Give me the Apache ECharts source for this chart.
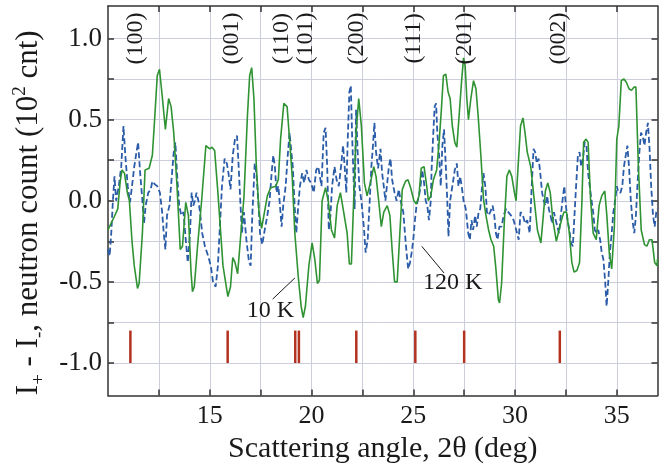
<!DOCTYPE html>
<html><head><meta charset="utf-8">
<script src="https://cdn.jsdelivr.net/npm/echarts@6/dist/echarts.min.js"></script>
<style>html,body{margin:0;padding:0;background:#fff}#c{width:668px;height:467px}</style>
</head><body><div id="c"></div>
<script>
// 10 K (green, solid)
const angles10K = [10.0,10.08,10.3,10.48,10.6,10.69,10.81,10.95,11.05,11.18,11.29,11.45,11.53,11.69,11.82,12.02,12.18,12.31,12.42,12.53,12.66,12.82,12.98,13.1,13.23,13.39,13.55,13.66,13.82,13.95,14.08,14.15,14.24,14.4,14.6,14.81,15.0,15.11,15.24,15.4,15.65,15.89,16.02,16.13,16.24,16.37,16.53,16.68,16.85,16.96,17.06,17.17,17.29,17.42,17.55,17.66,17.83,17.99,18.24,18.37,18.48,18.64,18.8,18.92,19.05,19.18,19.35,19.49,19.59,19.7,19.87,20.03,20.16,20.29,20.39,20.52,20.69,20.82,20.98,21.13,21.26,21.42,21.58,21.75,21.86,21.96,22.07,22.19,22.32,22.45,22.6,22.73,22.89,23.06,23.17,23.3,23.43,23.55,23.72,23.85,23.96,24.08,24.21,24.34,24.46,24.62,24.74,24.87,25.03,25.15,25.28,25.39,25.53,25.66,25.74,25.86,25.99,26.15,26.27,26.38,26.48,26.6,26.71,26.81,26.92,27.04,27.14,27.25,27.37,27.47,27.55,27.63,27.71,27.83,27.96,28.08,28.19,28.32,28.45,28.57,28.7,28.82,28.95,29.06,29.18,29.24,29.34,29.47,29.6,29.72,29.84,29.97,30.05,30.15,30.27,30.39,30.49,30.6,30.77,30.94,31.1,31.27,31.39,31.49,31.61,31.73,31.86,32.03,32.16,32.28,32.4,32.53,32.67,32.79,32.9,33.04,33.17,33.29,33.37,33.49,33.59,33.71,33.84,33.99,34.13,34.26,34.41,34.51,34.63,34.75,34.88,35.0,35.1,35.22,35.35,35.47,35.6,35.72,35.84,35.94,36.06,36.2,36.36,36.48,36.6,36.73,36.86,36.98,37.0];
const counts10K = [-0.18,-0.17,-0.1,-0.05,0.12,0.19,0.17,0.05,0.0,-0.25,-0.4,-0.54,-0.51,-0.2,0.19,0.2,0.28,0.54,0.77,0.81,0.65,0.44,0.63,0.58,0.42,0.09,-0.3,-0.28,-0.01,-0.09,-0.44,-0.56,-0.53,-0.28,0.0,0.34,0.32,0.33,0.31,0.05,-0.4,-0.59,-0.53,-0.35,-0.38,-0.45,-0.2,0.02,0.52,0.77,0.82,0.63,0.21,-0.07,-0.17,-0.09,0.03,0.08,0.09,0.13,0.38,0.6,0.58,0.38,0.15,-0.2,-0.47,-0.65,-0.72,-0.65,-0.4,-0.26,-0.36,-0.51,-0.49,0.0,0.08,0.0,-0.18,-0.23,-0.03,0.05,-0.07,-0.2,-0.39,-0.39,0.0,0.42,0.63,0.46,0.11,0.03,0.11,0.21,0.15,0.0,-0.16,-0.07,-0.03,-0.09,-0.3,-0.5,-0.5,-0.2,0.07,0.12,0.13,0.08,0.0,-0.02,0.03,0.2,0.21,0.09,0.0,0.03,0.13,0.19,0.36,0.56,0.77,0.78,0.67,0.63,0.46,0.36,0.33,0.52,0.73,0.88,0.83,0.63,0.5,0.63,0.74,0.69,0.52,0.28,0.01,-0.09,-0.18,-0.24,-0.28,-0.42,-0.61,-0.63,-0.51,-0.14,0.15,0.19,0.15,0.05,0.0,0.21,0.46,0.51,0.42,0.3,0.21,0.01,-0.18,-0.26,-0.09,0.06,0.11,0.05,-0.12,-0.25,-0.18,-0.12,-0.07,-0.07,-0.2,-0.38,-0.44,-0.43,-0.38,0.01,0.36,0.38,0.36,0.01,-0.2,-0.24,-0.03,0.03,0.06,-0.09,-0.32,-0.42,-0.16,0.38,0.46,0.74,0.75,0.73,0.69,0.68,0.7,0.7,0.21,-0.18,-0.27,-0.28,-0.24,-0.24,-0.38,-0.4,-0.36];

// 120 K (blue, dashed)
const angles120K = [10.0,10.08,10.16,10.24,10.32,10.4,10.53,10.65,10.76,10.85,10.97,11.08,11.18,11.29,11.4,11.48,11.58,11.69,11.77,11.85,11.98,12.1,12.18,12.31,12.42,12.55,12.66,12.74,12.82,12.9,13.02,13.11,13.23,13.31,13.39,13.5,13.6,13.71,13.82,13.92,14.03,14.11,14.19,14.27,14.35,14.44,14.52,14.63,14.76,14.92,15.05,15.16,15.29,15.4,15.48,15.6,15.73,15.84,15.92,16.02,16.13,16.24,16.34,16.42,16.5,16.58,16.68,16.8,16.93,17.01,17.09,17.21,17.29,17.39,17.47,17.58,17.7,17.83,17.94,18.04,18.12,18.2,18.28,18.37,18.45,18.53,18.61,18.73,18.82,18.92,19.0,19.08,19.17,19.25,19.35,19.43,19.54,19.64,19.75,19.87,19.98,20.11,20.23,20.33,20.41,20.49,20.6,20.69,20.77,20.85,20.93,21.01,21.13,21.23,21.34,21.45,21.55,21.63,21.71,21.78,21.86,21.93,21.99,22.08,22.12,22.19,22.26,22.35,22.45,22.57,22.66,22.76,22.86,22.94,23.02,23.09,23.17,23.27,23.39,23.47,23.55,23.63,23.72,23.8,23.88,23.96,24.08,24.18,24.29,24.38,24.51,24.59,24.67,24.75,24.84,24.92,25.0,25.08,25.16,25.28,25.36,25.44,25.53,25.61,25.69,25.77,25.86,25.9,25.97,26.05,26.12,26.18,26.27,26.35,26.43,26.51,26.6,26.68,26.73,26.81,26.92,27.04,27.14,27.22,27.3,27.38,27.47,27.58,27.7,27.78,27.86,27.94,28.04,28.12,28.21,28.29,28.37,28.45,28.54,28.62,28.7,28.78,28.9,28.98,29.06,29.14,29.23,29.34,29.44,29.56,29.67,29.8,29.93,30.02,30.1,30.18,30.27,30.39,30.49,30.6,30.72,30.82,30.91,30.99,31.07,31.16,31.24,31.33,31.41,31.49,31.58,31.66,31.74,31.83,31.91,32.0,32.08,32.16,32.25,32.33,32.42,32.5,32.58,32.67,32.75,32.84,32.92,33.0,33.09,33.17,33.25,33.34,33.42,33.51,33.59,33.67,33.76,33.84,33.92,34.01,34.09,34.18,34.26,34.34,34.43,34.5,34.58,34.66,34.75,34.83,34.92,35.0,35.08,35.18,35.27,35.35,35.44,35.52,35.6,35.69,35.77,35.86,35.94,36.02,36.11,36.19,36.27,36.36,36.44,36.53,36.61,36.69,36.78,36.86,36.94,37.0];
const counts120K = [-0.3,-0.34,-0.2,0.0,0.15,0.0,0.09,0.21,0.46,0.28,0.09,-0.01,0.09,0.21,0.3,0.36,0.17,0.0,-0.14,-0.03,0.05,0.07,0.12,0.1,0.09,0.05,-0.07,-0.2,-0.3,-0.09,-0.03,-0.03,0.3,0.36,0.17,-0.03,-0.09,-0.07,-0.24,-0.38,-0.2,0.05,-0.03,0.0,0.05,0.0,-0.07,-0.2,-0.28,-0.34,-0.4,-0.5,-0.53,-0.4,-0.2,0.09,0.26,0.23,0.17,0.07,0.28,0.38,0.4,0.21,0.0,-0.2,-0.07,-0.24,-0.38,-0.4,-0.09,0.23,0.17,-0.01,-0.2,-0.27,-0.18,-0.09,0.0,0.17,0.28,0.21,0.05,0.09,-0.03,-0.16,-0.03,0.09,0.26,0.42,0.43,0.21,-0.03,-0.2,-0.03,0.09,0.17,0.11,0.19,0.13,0.11,0.05,0.19,0.21,0.15,0.09,0.42,0.45,0.21,-0.18,-0.09,0.09,0.21,0.13,0.09,0.21,0.34,0.21,0.05,0.38,0.67,0.71,0.42,0.09,-0.05,0.56,0.32,0.09,0.0,-0.16,-0.32,-0.24,0.0,0.21,0.34,0.48,0.3,0.2,0.32,0.17,0.09,0.0,0.11,0.21,0.26,0.13,0.05,0.0,0.07,0.0,-0.07,-0.2,-0.32,-0.42,-0.38,-0.32,-0.24,-0.12,-0.03,0.03,0.09,0.19,0.11,0.0,-0.03,-0.12,0.0,0.19,0.38,0.58,0.6,0.42,0.28,0.09,0.34,0.44,0.21,-0.03,-0.22,0.0,0.09,0.19,0.23,0.09,0.15,0.09,0.0,-0.05,-0.2,-0.24,-0.12,-0.18,-0.09,-0.16,-0.07,-0.05,0.07,0.17,0.09,-0.07,-0.09,-0.07,-0.03,-0.09,-0.2,-0.24,-0.16,-0.16,-0.09,-0.05,-0.07,-0.09,-0.12,-0.12,-0.2,-0.24,-0.07,-0.09,-0.14,-0.12,-0.2,0.09,0.32,0.3,0.23,0.26,0.17,0.05,0.0,-0.03,0.03,-0.05,-0.09,-0.14,-0.07,-0.12,-0.16,-0.2,-0.09,0.0,0.09,-0.03,-0.12,-0.18,-0.26,-0.28,-0.09,0.09,0.28,0.3,0.21,0.26,0.36,0.34,0.17,0.09,0.0,-0.07,-0.18,-0.2,-0.18,-0.24,-0.32,-0.36,-0.5,-0.65,-0.5,-0.32,-0.2,-0.07,0.0,0.09,0.05,0.05,0.09,0.21,0.28,0.34,0.21,0.0,-0.12,-0.2,-0.09,0.11,0.3,0.42,0.4,0.34,0.42,0.48,0.32,0.09,-0.09,-0.16,-0.07,-0.05];

// reflections
const reflectionAngles = [11.1, 15.88, 19.2, 19.38, 22.2, 25.1, 27.5, 32.2];
const millerLabels = ['(100)','(001)','(110)','(101)','(200)','(111)','(201)','(002)'];
const millerLabelAngles = [11.37, 16.06, 18.55, 19.72, 22.24, 25.03, 27.55, 32.16];

// axis ticks
const xTickLabels = [15, 20, 25, 30, 35];
const xTickMarks = [12.5, 15, 17.5, 20, 22.5, 25, 27.5, 30, 32.5, 35];
const yTickLabels = [-1.0, -0.5, 0.0, 0.5, 1.0];
const yTickMarks = [-1.0, -0.75, -0.5, -0.25, 0.0, 0.25, 0.5, 0.75, 1.0];

// annotations
const noteTexts = ['10 K', '120 K'];
const noteAngles = [17.98, 26.93];
const noteCounts = [-0.68, -0.508];
const arrowFrom = [[18.09, -0.606], [26.51, -0.445]];
const arrowTo = [[19.18, -0.476], [25.42, -0.281]];

const SERIF = "'Liberation Serif','DejaVu Serif',serif";
const AX = '#333';
const GRID = '#cdcedb';
const INK = '#1a1a1a';

const chart = echarts.init(document.getElementById('c'), null, {renderer: 'canvas'});
const zip = (a, b) => a.map((v, i) => [v, b[i]]);

const xBase = {
  type: 'value', min: 10, max: 37,
  axisLine: {show: true, onZero: false, lineStyle: {color: AX, width: 1.5}},
  axisTick: {show: true, inside: true, length: 6, customValues: xTickMarks, lineStyle: {color: AX, width: 1.5}},
};
const yBase = {
  type: 'value', min: -1.2, max: 1.2,
  axisLine: {show: true, onZero: false, lineStyle: {color: AX, width: 1.5}},
  axisTick: {show: true, inside: true, length: 6, customValues: yTickMarks, lineStyle: {color: AX, width: 1.5}},
};

chart.setOption({
  animation: false,
  backgroundColor: '#fff',
  grid: {left: 108, right: 10.5, top: 6, bottom: 71.5, containLabel: false, outerBoundsMode: 'none'},
  xAxis: [
    Object.assign({}, xBase, {
      position: 'bottom',
      axisLabel: {customValues: xTickLabels, fontFamily: SERIF, fontSize: 26, color: INK, margin: 8},
      splitLine: {show: true, lineStyle: {color: GRID, width: 1}},
      name: 'Scattering angle, 2θ (deg)', nameLocation: 'middle', nameGap: 36,
      nameTextStyle: {fontFamily: SERIF, fontSize: 30, color: INK}
    }),
    Object.assign({}, xBase, {position: 'top', axisLabel: {show: false}, splitLine: {show: false}})
  ],
  yAxis: [
    Object.assign({}, yBase, {
      position: 'left',
      axisLabel: {customValues: yTickLabels, fontFamily: SERIF, fontSize: 27, color: INK, margin: 6,
        formatter: v => (Math.abs(v) < 1e-9 ? 0 : v).toFixed(1)},
      splitLine: {show: true, lineStyle: {color: GRID, width: 1}},
      name: 'I{sub|+} - I{sub|-}, neutron count (10{sup|2} cnt)',
      nameLocation: 'middle', nameRotate: 90, nameGap: 58,
      nameTextStyle: {fontFamily: SERIF, fontSize: 31, color: INK, lineHeight: 38, padding: [0, 24, 0, 0],
        rich: {
          sub: {fontFamily: SERIF, fontSize: 19, color: INK, verticalAlign: 'bottom', lineHeight: 38},
          sup: {fontFamily: SERIF, fontSize: 19, color: INK, verticalAlign: 'top', lineHeight: 38}
        }}
    }),
    Object.assign({}, yBase, {position: 'right', axisLabel: {show: false}, splitLine: {show: false}})
  ],
  series: [
    {
      name: '120 K', type: 'line', data: zip(angles120K, counts120K), showSymbol: false, symbol: 'none',
      lineStyle: {color: '#2b5ca8', width: 1.8, type: [6, 3]}, z: 3
    },
    {
      name: '10 K', type: 'line', data: zip(angles10K, counts10K), showSymbol: false, symbol: 'none',
      lineStyle: {color: '#2f9333', width: 1.6}, z: 4,
      markLine: {
        silent: true, symbol: ['none', 'arrow'], symbolSize: [0, 9],
        itemStyle: {color: INK},
        lineStyle: {color: INK, width: 1, type: 'solid'}, label: {show: false},
        data: arrowFrom.map((f, i) => [{coord: f}, {coord: arrowTo[i]}])
      }
    },
    {
      name: 'reflections', type: 'custom', z: 5,
      data: reflectionAngles.map(a => [a, -1.0]),
      renderItem: function (params, api) {
        const x = api.value(0);
        const p1 = api.coord([x, -1.0]);
        const p2 = api.coord([x, -0.8]);
        return {type: 'line', shape: {x1: p1[0], y1: p1[1], x2: p2[0], y2: p2[1]},
          style: {stroke: '#b3321f', lineWidth: 2.5}};
      }
    },
    {
      name: 'miller', type: 'scatter', symbolSize: 1, itemStyle: {color: 'rgba(0,0,0,0)', opacity: 1}, z: 6, silent: true,
      data: millerLabelAngles.map((a, i) => ({value: [a, 1.0], name: millerLabels[i]})),
      label: {show: true, position: 'inside', rotate: 90, formatter: p => p.name,
        fontFamily: SERIF, fontSize: 24, color: INK, opacity: 1}
    },
    {
      name: 'notes', type: 'scatter', symbolSize: 1, itemStyle: {color: 'rgba(0,0,0,0)', opacity: 1}, z: 7, silent: true,
      data: noteAngles.map((a, i) => ({value: [a, noteCounts[i]], name: noteTexts[i]})),
      label: {show: true, position: 'inside', formatter: p => p.name,
        fontFamily: SERIF, fontSize: 24, color: INK, opacity: 1}
    }
  ]
});
</script>
</body></html>
